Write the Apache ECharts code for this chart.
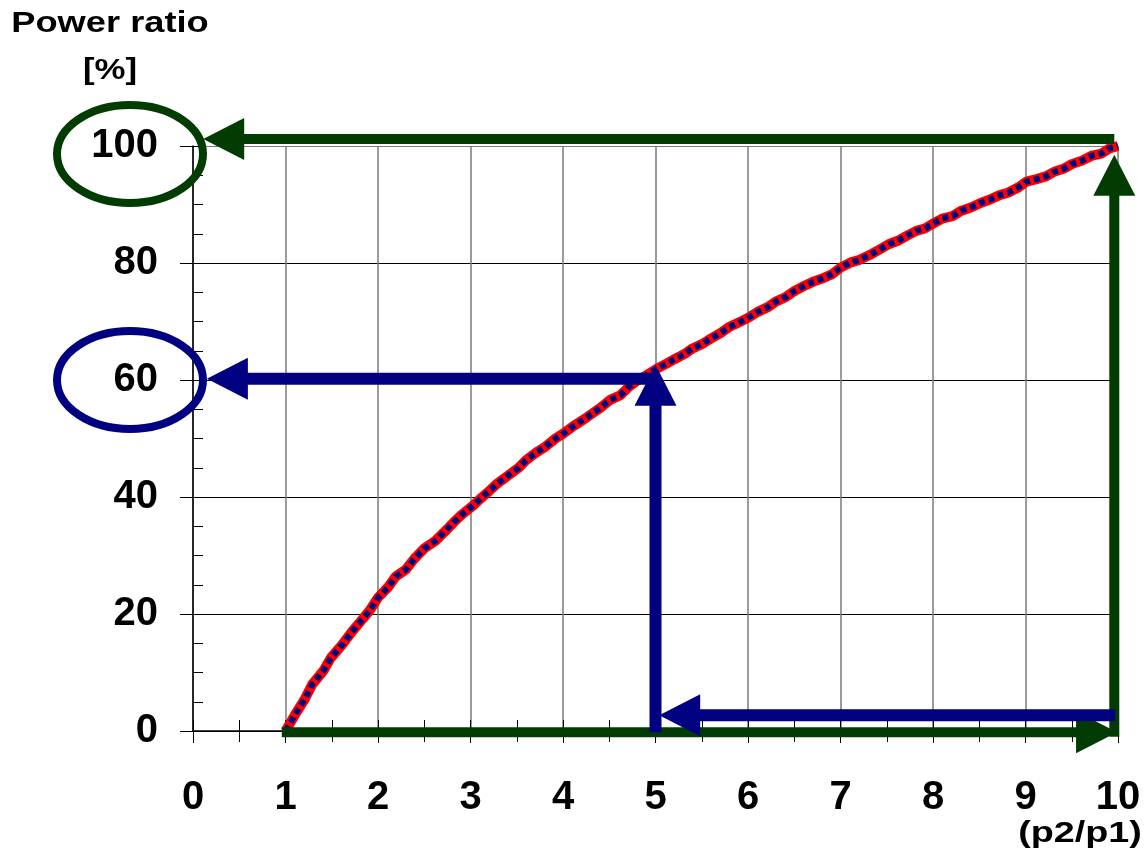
<!DOCTYPE html>
<html>
<head>
<meta charset="utf-8">
<script src="https://cdn.jsdelivr.net/npm/echarts@6/dist/echarts.min.js"></script>
<style>
html, body { margin: 0; padding: 0; background: #fff; }
#main { width: 1147px; height: 852px; }
</style>
</head>
<body>
<div id="main"></div>
<script>
// pressure ratio p2/p1 and power ratio [%]
var ratio = [1.00, 1.10, 1.21, 1.29, 1.41, 1.49, 1.61, 1.72, 1.81, 1.91,
  2.00, 2.11, 2.19, 2.30, 2.39, 2.50, 2.62, 2.71, 2.82, 2.90,
  3.01, 3.10, 3.20, 3.29, 3.40, 3.52, 3.60, 3.71, 3.81, 3.91,
  4.00, 4.11, 4.22, 4.30, 4.40, 4.51, 4.62, 4.71, 4.81, 4.91,
  5.01, 5.12, 5.21, 5.32, 5.40, 5.52, 5.60, 5.71, 5.79, 5.91,
  6.02, 6.10, 6.22, 6.30, 6.41, 6.50, 6.61, 6.72, 6.81, 6.91,
  7.01, 7.11, 7.20, 7.32, 7.40, 7.52, 7.62, 7.71, 7.82, 7.91,
  8.01, 8.10, 8.21, 8.30, 8.41, 8.52, 8.61, 8.72, 8.81, 8.92,
  9.01, 9.11, 9.22, 9.31, 9.41, 9.50, 9.61, 9.71, 9.82, 9.91, 10.0];
var power = [0, 2.7, 5.5, 8.0, 10.3, 12.5, 14.7, 17.0, 18.7, 20.6,
  22.8, 24.6, 26.4, 27.6, 29.4, 31.2, 32.5, 33.9, 35.7, 36.9,
  38.3, 39.6, 41.0, 42.3, 43.6, 45.0, 46.3, 47.6, 48.6, 49.9,
  50.8, 52.1, 53.2, 54.1, 55.2, 56.6, 57.4, 58.8, 60.0, 60.9,
  61.9, 62.8, 63.6, 64.5, 65.4, 66.3, 67.1, 68.1, 69.0, 69.9,
  70.8, 71.6, 72.5, 73.4, 74.2, 75.2, 76.1, 76.9, 77.4, 78.1,
  79.3, 80.1, 80.5, 81.4, 82.1, 83.2, 83.8, 84.6, 85.5, 85.9,
  86.8, 87.6, 88.0, 88.9, 89.5, 90.3, 90.8, 91.6, 92.0, 92.9,
  93.9, 94.3, 94.8, 95.6, 96.1, 96.9, 97.5, 98.3, 98.7, 99.6, 100];

// annotation arrows: start point and tip, in data units
var arrowFrom = [[0.96, -0.2], [9.96, -1.0], [9.96, 101.2], [9.97, 2.7], [5.0, -0.2], [5.0, 60.2]];
var arrowTo = [[9.99, -0.2], [9.96, 98.5], [0.11, 101.2], [5.04, 2.7], [5.0, 62.6], [0.15, 60.2]];
var arrowKind = ['green', 'green', 'green', 'blue', 'blue', 'blue'];

var xTicks = [0, 10, 1];
var yTicks = [0, 100, 20];

var GREEN = '#033c03';
var BLUE = '#000080';
var FONT = 'Liberation Sans, Arial, sans-serif';

var curve = ratio.map(function (r, i) { return [r, power[i]]; });
var arrows = arrowFrom.map(function (a, i) { return [a[0], a[1], arrowTo[i][0], arrowTo[i][1]]; });

function drawArrow(params, api) {
  var a = api.coord([api.value(0), api.value(1)]);
  var b = api.coord([api.value(2), api.value(3)]);
  var dx = b[0] - a[0], dy = b[1] - a[1];
  var len = Math.sqrt(dx * dx + dy * dy);
  var ux = dx / len, uy = dy / len;
  var green = arrowKind[params.dataIndex] === 'green';
  var color = green ? GREEN : BLUE;
  var w = green ? 10 : 12;
  var hl = 41, hw = 21;
  var bx = b[0] - ux * hl, by = b[1] - uy * hl;
  return {
    type: 'group',
    children: [
      { type: 'line', shape: { x1: a[0], y1: a[1], x2: bx + ux * 2, y2: by + uy * 2 },
        style: { stroke: color, lineWidth: w } },
      { type: 'polygon', shape: { points: [[b[0], b[1]], [bx - uy * hw, by + ux * hw], [bx + uy * hw, by - ux * hw]] },
        style: { fill: color } }
    ]
  };
}

var chart = echarts.init(document.getElementById('main'));
var gridBox = { left: 193, right: 29, top: 146, bottom: 121, outerBoundsMode: 'none', containLabel: false };

chart.setOption({
  animation: false,
  backgroundColor: '#fff',
  grid: [gridBox, gridBox],
  xAxis: [{
    gridIndex: 0, type: 'value', min: xTicks[0], max: xTicks[1], interval: xTicks[2],
    axisLine: { show: true, onZero: false, lineStyle: { color: '#000', width: 1.5 } },
    axisTick: { show: true, length: 12, lineStyle: { color: '#000', width: 1 } },
    minorTick: { show: true, splitNumber: 2, length: 11, lineStyle: { color: '#000', width: 1 } },
    axisLabel: { margin: 47, fontSize: 40, fontWeight: 'bold', color: '#000', fontFamily: FONT },
    splitLine: { show: true, lineStyle: { color: '#7a7a7a', width: 1.5 } }
  }, {
    gridIndex: 1, type: 'value', min: 0, max: 10, interval: 0.5,
    axisLine: { show: false }, axisLabel: { show: false }, splitLine: { show: false },
    axisTick: { show: true, inside: true, length: 11, lineStyle: { color: '#000', width: 1 } }
  }],
  yAxis: [{
    gridIndex: 0, type: 'value', min: yTicks[0], max: yTicks[1], interval: yTicks[2],
    axisLine: { show: true, onZero: false, lineStyle: { color: '#000', width: 1.5 } },
    axisTick: { show: true, length: 13, lineStyle: { color: '#000', width: 1 } },
    axisLabel: { margin: 35, fontSize: 40, fontWeight: 'bold', color: '#000', fontFamily: FONT },
    splitLine: { show: true, lineStyle: { color: ['#000', '#000', '#000', '#000', '#000', '#7a7a7a'], width: 1 } }
  }, {
    gridIndex: 1, type: 'value', min: 0, max: 100, interval: 5,
    axisLine: { show: false }, axisLabel: { show: false }, splitLine: { show: false },
    axisTick: { show: true, inside: true, length: 10, lineStyle: { color: '#000', width: 1 } }
  }],
  graphic: [
    { type: 'text', x: 110, y: 24, scaleX: 1.25, z: 10,
      style: { text: 'Power ratio', fontSize: 29, fontWeight: 'bold', fontFamily: FONT, fill: '#000', align: 'center', verticalAlign: 'middle' } },
    { type: 'text', x: 110, y: 71, scaleX: 1.2, z: 10,
      style: { text: '[%]', fontSize: 29, fontWeight: 'bold', fontFamily: FONT, fill: '#000', align: 'center', verticalAlign: 'middle' } },
    { type: 'text', x: 1080, y: 834, scaleX: 1.3, z: 10,
      style: { text: '(p2/p1)', fontSize: 29, fontWeight: 'bold', fontFamily: FONT, fill: '#000', align: 'center', verticalAlign: 'middle' } },
    { type: 'ellipse', z: 10, shape: { cx: 130, cy: 154, rx: 73, ry: 49 },
      style: { fill: null, stroke: GREEN, lineWidth: 8 } },
    { type: 'ellipse', z: 10, shape: { cx: 130, cy: 380, rx: 73, ry: 49 },
      style: { fill: null, stroke: BLUE, lineWidth: 8 } }
  ],
  series: [{
    type: 'line', xAxisIndex: 0, yAxisIndex: 0, data: curve,
    showSymbol: false, z: 2,
    lineStyle: { color: '#ff0000', width: 10 }
  }, {
    type: 'line', xAxisIndex: 0, yAxisIndex: 0, data: curve,
    showSymbol: false, z: 3,
    lineStyle: { color: BLUE, width: 6, type: [6, 4], cap: 'butt' }
  }, {
    type: 'custom', xAxisIndex: 0, yAxisIndex: 0, data: arrows,
    encode: { x: [0, 2], y: [1, 3] }, clip: false, z: 4,
    renderItem: drawArrow
  }]
});
</script>
</body>
</html>
